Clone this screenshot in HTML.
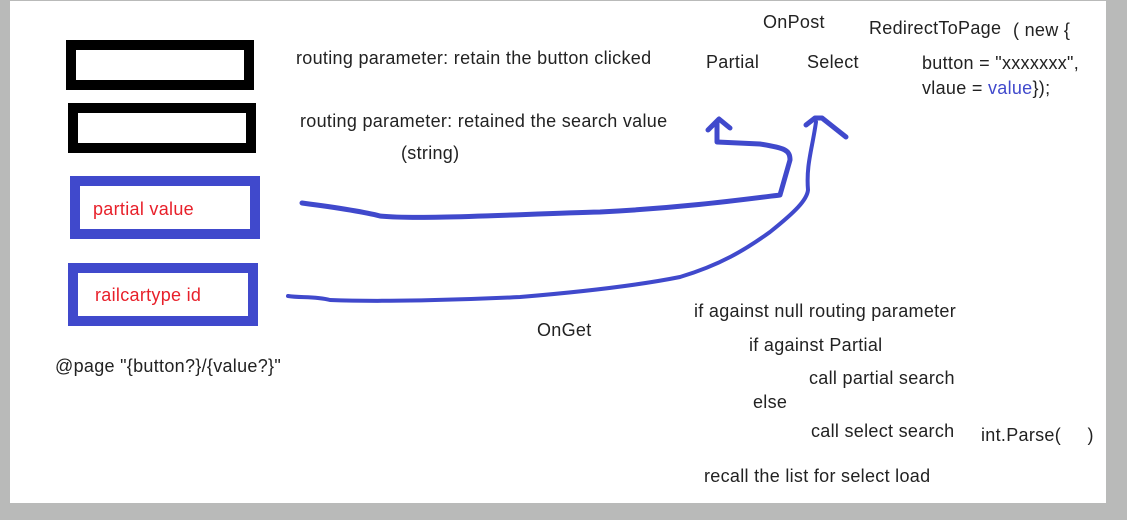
<!DOCTYPE html>
<html><head><style>
body{margin:0;width:1127px;height:520px;background:#b9bab9;position:relative;overflow:hidden;font-family:"Liberation Sans",sans-serif;}
#pg{position:absolute;left:10px;top:1px;width:1096px;height:502px;background:#fff;}
.b{position:absolute;box-sizing:border-box;}
.t{position:absolute;font-size:18px;letter-spacing:0.3px;color:#222;white-space:nowrap;margin-top:-2px;}
.r{color:#e8202a;}
</style></head><body>
<div id="pg"></div>
<div class="b" style="left:66px;top:40px;width:188px;height:50px;border:10px solid #000"></div>
<div class="b" style="left:68px;top:103px;width:188px;height:50px;border:10px solid #000"></div>
<div class="b" style="left:70px;top:176px;width:190px;height:63px;border:10px solid #4049cc"></div>
<div class="b" style="left:68px;top:263px;width:190px;height:63px;border:10px solid #4049cc"></div>
<div class="t r" style="left:93px;top:201px">partial value</div>
<div class="t r" style="left:95px;top:287px">railcartype id</div>
<div class="t" style="left:296px;top:50px">routing parameter: retain the button clicked</div>
<div class="t" style="left:300px;top:113px">routing parameter: retained the search value</div>
<div class="t" style="left:401px;top:145px">(string)</div>
<div class="t" style="left:55px;top:358px">@page "{button?}/{value?}"</div>
<div class="t" style="left:763px;top:14px">OnPost</div>
<div class="t" style="left:869px;top:20px">RedirectToPage</div>
<div class="t" style="left:1013px;top:22px">( new {</div>
<div class="t" style="left:706px;top:54px">Partial</div>
<div class="t" style="left:807px;top:54px">Select</div>
<div class="t" style="left:922px;top:55px">button = "xxxxxxx",</div>
<div class="t" style="left:922px;top:80px">vlaue = <span style="color:#4049cc">value</span>});</div>
<div class="t" style="left:537px;top:322px">OnGet</div>
<div class="t" style="left:694px;top:303px">if against null routing parameter</div>
<div class="t" style="left:749px;top:337px">if against Partial</div>
<div class="t" style="left:809px;top:370px">call partial search</div>
<div class="t" style="left:753px;top:394px">else</div>
<div class="t" style="left:811px;top:423px">call select search</div>
<div class="t" style="left:981px;top:427px">int.Parse(&nbsp;&nbsp;&nbsp;&nbsp;&nbsp;)</div>
<div class="t" style="left:704px;top:468px">recall the list for select load</div>
<svg width="1127" height="520" style="position:absolute;left:0;top:0" fill="none" stroke="#4049cc" stroke-linecap="round" stroke-linejoin="round">
<path d="M302,203 C340,208 365,212 380,216 C420,220 520,214 600,212 C680,208 740,200 780,195 L790,160 C790,150 785,148 760,144 L717,142 L717,122" stroke-width="5"/>
<path d="M708,130 L719,119 L730,128" stroke-width="5"/>
<path d="M288,296 C300,298 315,296 330,300 C380,302 460,300 520,297 C580,292 640,285 680,277 C720,265 745,250 770,232 C795,212 807,200 808,190 C806,165 812,150 816,122" stroke-width="4"/>
<path d="M806,125 L815,118 L822,118 L846,137" stroke-width="5"/>
</svg>
</body></html>
